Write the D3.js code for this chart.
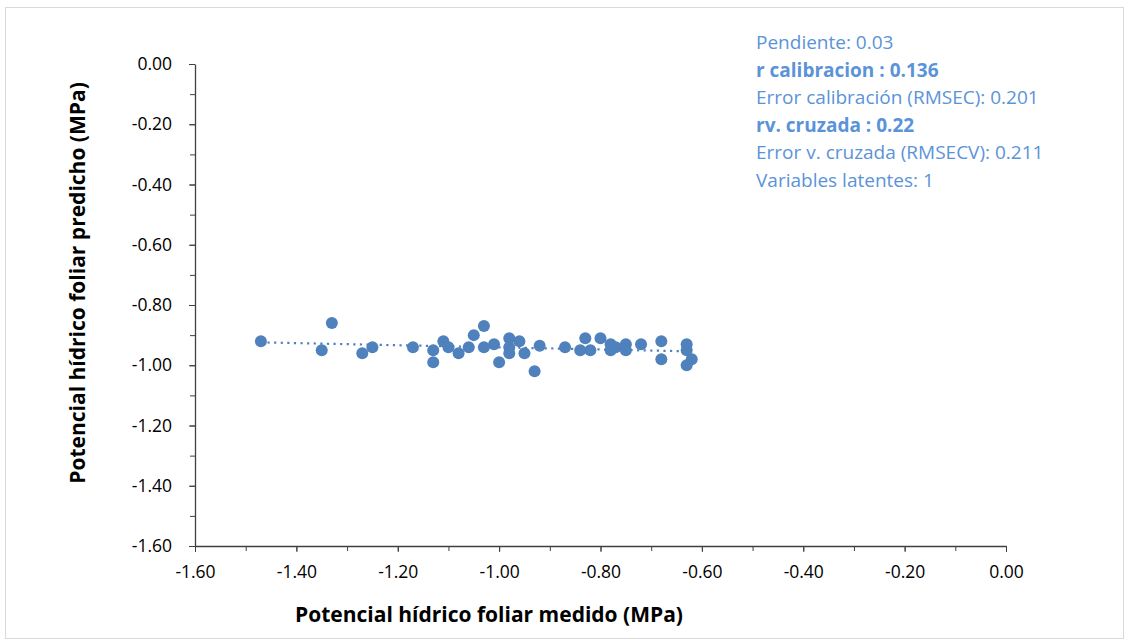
<!DOCTYPE html>
<html lang="es">
<head>
<meta charset="UTF-8">
<title>Potencial hídrico foliar</title>
<script src="https://d3js.org/d3.v7.min.js"></script>
<style>
  body { margin: 0; background: #fff; }
  svg text { font-family: "Open Sans", "Liberation Sans", sans-serif; }
</style>
</head>
<body>
<div id="chart"></div>
<script>
// medido (x) y predicho (y), MPa
var medido = [-1.47, -1.33, -1.35, -1.27, -1.25, -1.17, -1.13, -1.13, -1.11, -1.10,
              -1.08, -1.06, -1.05, -1.03, -1.03, -1.01, -1.00, -0.98, -0.98, -0.98,
              -0.96, -0.95, -0.93, -0.92, -0.87, -0.84, -0.83, -0.82, -0.80, -0.78,
              -0.78, -0.77, -0.75, -0.75, -0.72, -0.68, -0.68, -0.63, -0.63, -0.62, -0.63];
var predicho = [-0.92, -0.86, -0.95, -0.96, -0.94, -0.94, -0.95, -0.99, -0.92, -0.94,
                -0.96, -0.94, -0.90, -0.87, -0.94, -0.93, -0.99, -0.91, -0.96, -0.94,
                -0.92, -0.96, -1.02, -0.935, -0.94, -0.95, -0.91, -0.95, -0.91, -0.93,
                -0.95, -0.94, -0.93, -0.95, -0.93, -0.92, -0.98, -0.93, -0.95, -0.98, -1.00];
// linea de tendencia (extremos)
var trendX = [-1.47, -0.62];
var trendY = [-0.924, -0.954];

var xTicks = [-1.6, -1.4, -1.2, -1.0, -0.8, -0.6, -0.4, -0.2, 0.0];
var yTicks = [0.0, -0.2, -0.4, -0.6, -0.8, -1.0, -1.2, -1.4, -1.6];
var minorX = d3.range(-16, 1).map(function(d) { return d / 10; });
var minorY = d3.range(-16, 1).map(function(d) { return d / 10; });

var stats = [
  { text: "Pendiente: 0.03", bold: false },
  { text: "r calibracion : 0.136", bold: true },
  { text: "Error calibración (RMSEC): 0.201", bold: false },
  { text: "rv. cruzada : 0.22", bold: true },
  { text: "Error v. cruzada (RMSECV): 0.211", bold: false },
  { text: "Variables latentes: 1", bold: false }
];

var width = 1129, height = 644;
var mLeft = 195, mRight = 1006, mTop = 64, mBottom = 546;
var dotColor = "#4f81bd";
var textBlue = "#5b93d8";
var fmt = function(d) { return d.toFixed(2); };

var svg = d3.select("#chart").append("svg")
  .attr("width", width)
  .attr("height", height);

// borde del grafico
svg.append("rect")
  .attr("x", 5.5).attr("y", 7.5)
  .attr("width", 1118).attr("height", 631)
  .attr("fill", "white")
  .attr("stroke", "#d9d9d9");

var x = d3.scaleLinear().domain([-1.6, 0]).range([mLeft, mRight]);
var y = d3.scaleLinear().domain([-1.6, 0]).range([mBottom, mTop]);

// ticks menores
svg.append("g")
  .attr("transform", "translate(0," + mBottom + ")")
  .call(d3.axisBottom(x).tickValues(minorX).tickSize(5).tickFormat(""))
  .call(function(g) { g.select(".domain").remove(); })
  .selectAll("line").attr("stroke", "#404040");

svg.append("g")
  .attr("transform", "translate(" + mLeft + ",0)")
  .call(d3.axisLeft(y).tickValues(minorY).tickSize(5).tickFormat(""))
  .call(function(g) { g.select(".domain").remove(); })
  .selectAll("line").attr("stroke", "#404040");

// ejes
var xAxis = svg.append("g")
  .attr("transform", "translate(0," + mBottom + ")")
  .call(d3.axisBottom(x).tickValues(xTicks).tickSize(6).tickSizeOuter(0).tickPadding(14)
    .tickFormat(fmt));
xAxis.select(".domain").attr("stroke", "#404040").attr("stroke-width", 1.3);
xAxis.selectAll("line").attr("stroke", "#404040");
xAxis.selectAll("text").attr("font-size", "17.5px").attr("fill", "#000");

var yAxis = svg.append("g")
  .attr("transform", "translate(" + mLeft + ",0)")
  .call(d3.axisLeft(y).tickValues(yTicks).tickSize(6).tickSizeOuter(0).tickPadding(17)
    .tickFormat(fmt));
yAxis.select(".domain").attr("stroke", "#404040").attr("stroke-width", 1.3);
yAxis.selectAll("line").attr("stroke", "#404040");
yAxis.selectAll("text").attr("font-size", "17.5px").attr("fill", "#000");

// linea de tendencia punteada
svg.append("line")
  .attr("x1", x(trendX[0])).attr("y1", y(trendY[0]))
  .attr("x2", x(trendX[1])).attr("y2", y(trendY[1]))
  .attr("stroke", dotColor)
  .attr("stroke-width", 2.2)
  .attr("stroke-dasharray", "2.2,4.4");

// puntos
svg.selectAll("circle.pt")
  .data(medido)
  .enter()
  .append("circle")
  .attr("class", "pt")
  .attr("cx", function(d) { return x(d); })
  .attr("cy", function(d, i) { return y(predicho[i]); })
  .attr("r", 6)
  .attr("fill", dotColor);

// titulos de ejes
svg.append("text")
  .attr("x", 489).attr("y", 622)
  .attr("text-anchor", "middle")
  .attr("font-size", "21px")
  .attr("font-weight", "bold")
  .attr("fill", "#000")
  .text("Potencial hídrico foliar medido (MPa)");

svg.append("text")
  .attr("transform", "translate(85,283) rotate(-90)")
  .attr("text-anchor", "middle")
  .attr("font-size", "21px")
  .attr("font-weight", "bold")
  .attr("fill", "#000")
  .text("Potencial hídrico foliar predicho (MPa)");

// cuadro de estadisticas
svg.selectAll("text.stat")
  .data(stats)
  .enter()
  .append("text")
  .attr("class", "stat")
  .attr("x", 756)
  .attr("y", function(d, i) { return 49 + i * 27.6; })
  .attr("font-size", "19px")
  .attr("font-weight", function(d) { return d.bold ? "bold" : "normal"; })
  .attr("fill", textBlue)
  .text(function(d) { return d.text; });
</script>
</body>
</html>
